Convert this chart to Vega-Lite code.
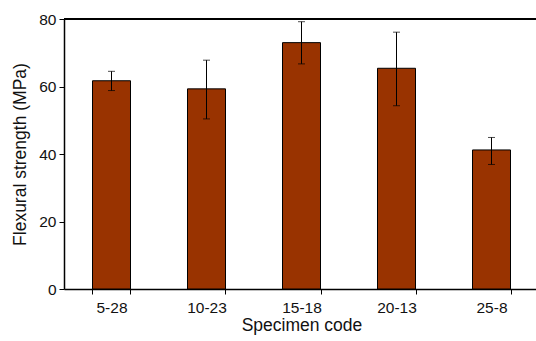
{
  "$schema": "https://vega.github.io/schema/vega-lite/v6.json",
  "width": 475,
  "height": 270,
  "autosize": {"type": "none"},
  "padding": {"left": 64, "top": 19, "right": 0, "bottom": 52},
  "background": "white",
  "config": {
    "font": "Liberation Sans",
    "view": {"stroke": null},
    "axis": {
      "labelFont": "Liberation Sans",
      "titleFont": "Liberation Sans",
      "labelColor": "#111111",
      "titleColor": "#111111",
      "titleFontWeight": "normal",
      "domainColor": "#000000",
      "tickColor": "#000000",
      "grid": false
    }
  },
  "data": {
    "values": [
      {"code": "5-28", "strength": 61.7, "lo": 58.8, "hi": 64.5},
      {"code": "10-23", "strength": 59.3, "lo": 50.4, "hi": 67.8},
      {"code": "15-18", "strength": 73.0, "lo": 66.7, "hi": 79.2},
      {"code": "20-13", "strength": 65.4, "lo": 54.3, "hi": 76.1},
      {"code": "25-8", "strength": 41.2, "lo": 36.9, "hi": 44.9}
    ]
  },
  "layer": [
    {
      "mark": {"type": "bar", "color": "#993300", "stroke": "#000000", "strokeWidth": 1},
      "encoding": {
        "x": {
          "field": "code",
          "type": "nominal",
          "sort": null,
          "scale": {"paddingInner": 0.6, "paddingOuter": 0.3},
          "axis": {
            "title": "Specimen code",
            "labelAngle": 0,
            "labelFontSize": 15.5,
            "titleFontSize": 17.5,
            "tickBand": "extent",
            "tickSize": 5,
            "labelPadding": 6,
            "titlePadding": 1,
            "domainWidth": 1.5
          }
        },
        "y": {
          "field": "strength",
          "type": "quantitative",
          "title": "Flexural strength (MPa)",
          "scale": {"domain": [0, 80], "nice": false},
          "axis": {
            "values": [0, 10, 20, 30, 40, 50, 60, 70, 80],
            "labelExpr": "datum.value % 20 == 0 ? datum.label : ''",
            "labelFontSize": 15.5,
            "titleFontSize": 17.5,
            "tickSize": 5,
            "labelPadding": 3,
            "titlePadding": 9,
            "domainWidth": 1.5
          }
        }
      }
    },
    {
      "mark": {"type": "errorbar", "ticks": {"size": 7, "color": "#000000", "strokeWidth": 1}, "rule": {"color": "#000000", "strokeWidth": 1}},
      "encoding": {
        "x": {"field": "code", "type": "nominal", "sort": null},
        "y": {"field": "lo", "type": "quantitative", "title": "Flexural strength (MPa)"},
        "y2": {"field": "hi"}
      }
    },
    {
      "mark": {"type": "rule", "color": "#000000", "strokeWidth": 1.5},
      "encoding": {
        "y": {"datum": 80, "type": "quantitative", "title": "Flexural strength (MPa)"}
      }
    }
  ]
}
